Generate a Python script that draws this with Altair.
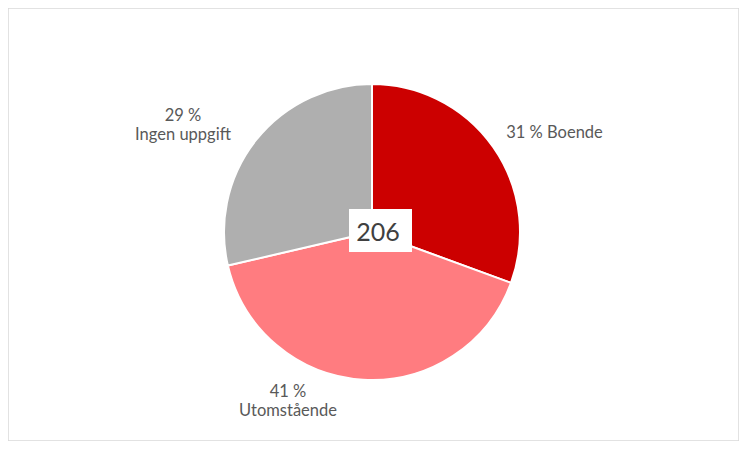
import altair as alt
import pandas as pd

categories = ["Boende", "Utomstående", "Ingen uppgift"]
counts = [63, 84, 59]
pct_labels = ["31 %", "41 %", "29 %"]
colors = ["#CC0000", "#FF7C80", "#AFAFAF"]
total_label = "206"

df = pd.DataFrame({
    "cat": categories,
    "n": counts,
    "pct": pct_labels,
    "ord": list(range(len(categories))),
})
df["lab_single"] = df["pct"] + " " + df["cat"]
df["lab_multi"] = df["pct"] + "\n" + df["cat"]

CX, CY = 364, 224
R = 148
FS = 16.5

base = alt.Chart(df).encode(
    theta=alt.Theta("n:Q", stack=True),
    order=alt.Order("ord:Q"),
)

pie = base.mark_arc(outerRadius=R, stroke="white", strokeWidth=2).encode(
    x=alt.value(CX), y=alt.value(CY),
    color=alt.Color("cat:N", scale=alt.Scale(domain=categories, range=colors), legend=None),
)

def label_layer(cat, field, dx, dy):
    return base.transform_calculate(
        t=f"datum.cat == '{cat}' ? datum.{field} : ''"
    ).mark_text(
        radius=180, dx=dx, dy=dy, fontSize=FS, font="Lato", color="#595959",
        lineBreak="\n", lineHeight=19, align="center", baseline="middle",
    ).encode(x=alt.value(CX), y=alt.value(CY), text="t:N")

lab1 = label_layer("Boende", "lab_single", 35, 4)
lab2 = label_layer("Utomstående", "lab_multi", -73, -20)
lab3 = label_layer("Ingen uppgift", "lab_multi", -48, -4)

center_df = pd.DataFrame({"t": [total_label]})
box = alt.Chart(center_df).mark_rect(color="white").encode(
    x=alt.value(CX - 23), x2=alt.value(CX + 40),
    y=alt.value(CY - 23), y2=alt.value(CY + 20),
)
ctext = alt.Chart(center_df).mark_text(
    fontSize=25, font="Lato", color="#404040", align="center", baseline="middle"
).encode(x=alt.value(CX + 6), y=alt.value(CY + 1), text="t:N")

chart = alt.layer(pie, lab1, lab2, lab3, box, ctext).properties(
    width=731, height=433, padding=0, autosize=alt.AutoSizeParams(type="none"),
).configure_view(stroke="#D9D9D9", strokeWidth=1.5)

chart.save("out.html", embed_options={"renderer": "svg", "actions": False})
